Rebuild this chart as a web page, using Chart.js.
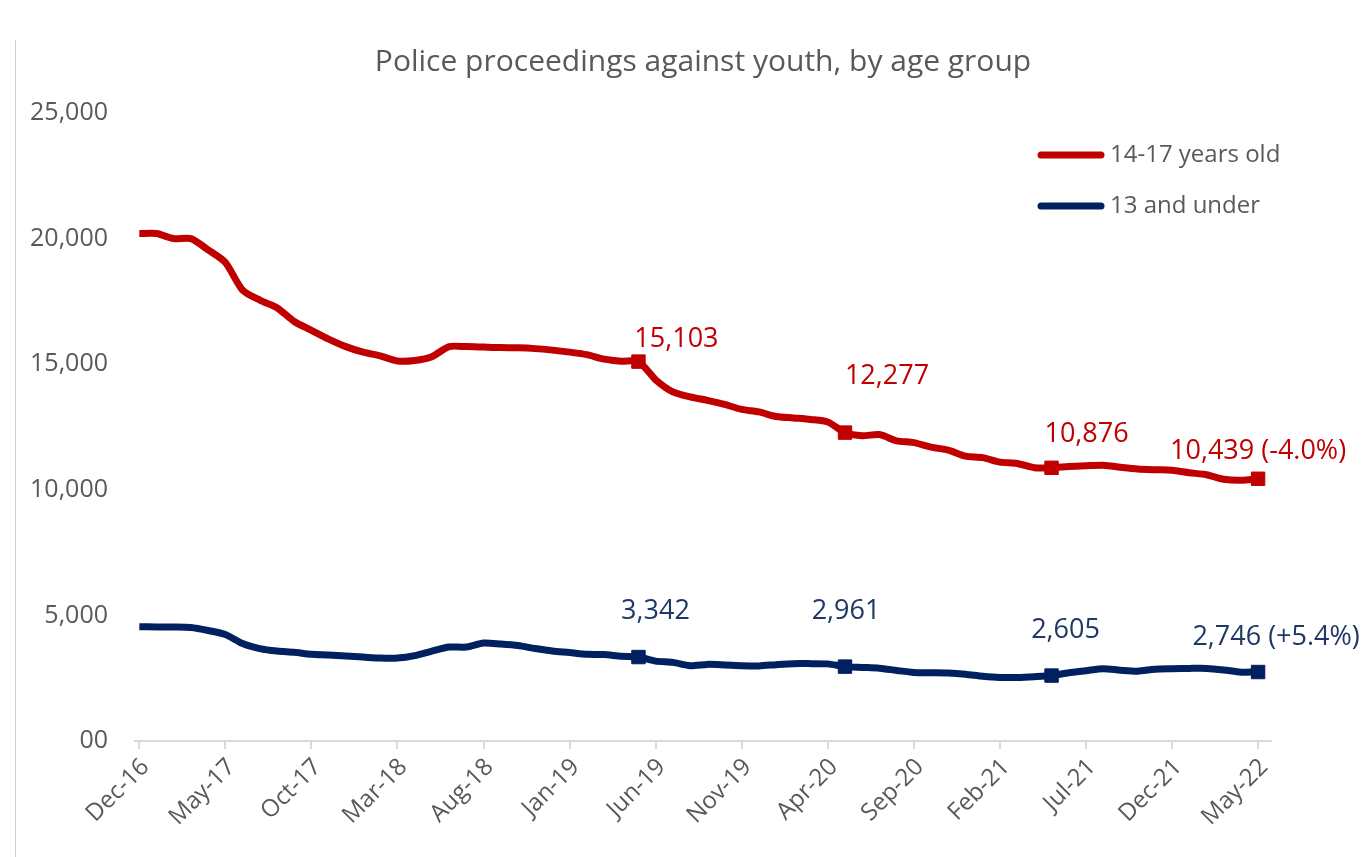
<!DOCTYPE html>
<html>
<head>
<meta charset="utf-8">
<title>Police proceedings against youth</title>
<script src="https://cdn.jsdelivr.net/npm/chart.js@4.4.1/dist/chart.umd.min.js"></script>
<style>
  html, body { margin: 0; padding: 0; background: #fff; }
  #wrap { position: relative; width: 1369px; height: 857px; }
  #frame { position: absolute; left: 15px; top: 40px; bottom: 0; border-left: 1px solid #cfcfcf; }
  canvas { position: absolute; left: 0; top: 0; }
</style>
</head>
<body>
<div id="wrap">
  <div id="frame"></div>
  <canvas id="myChart" width="1369" height="857"></canvas>
</div>
<script>
// Monthly counts, Dec-16 .. May-22 (66 months)
const tickLabels = ['Dec-16', 'May-17', 'Oct-17', 'Mar-18', 'Aug-18', 'Jan-19', 'Jun-19',
                    'Nov-19', 'Apr-20', 'Sep-20', 'Feb-21', 'Jul-21', 'Dec-21', 'May-22'];

const age14to17 = [
  20200, 20200, 20000, 20000, 19550, 19050, 17950, 17550, 17250, 16700,   // Dec-16 .. Sep-17
  16350, 16000, 15700, 15480, 15330, 15130, 15150, 15300, 15700, 15700,   // Oct-17 .. Jul-18
  15680, 15660, 15650, 15620, 15560, 15480, 15380, 15200, 15120, 15103,   // Aug-18 .. May-19
  14380, 13900, 13700, 13560, 13400, 13200, 13100, 12920, 12860, 12800,   // Jun-19 .. Mar-20
  12700, 12277, 12150, 12200, 11950, 11880, 11700, 11580, 11340, 11280,   // Apr-20 .. Jan-21
  11100, 11050, 10880, 10876, 10930, 10960, 10980, 10900, 10830, 10800,   // Feb-21 .. Nov-21
  10780, 10680, 10600, 10420, 10380, 10439                                // Dec-21 .. May-22
];

const age13under = [
  4550, 4540, 4540, 4520, 4400, 4240, 3880, 3680, 3580, 3530,
  3450, 3420, 3380, 3340, 3300, 3300, 3400, 3580, 3740, 3740,
  3900, 3860, 3800, 3680, 3580, 3520, 3450, 3440, 3370, 3342,
  3180, 3130, 3000, 3050, 3030, 3000, 2990, 3040, 3080, 3080,
  3070, 2961, 2930, 2900, 2810, 2730, 2720, 2710, 2660, 2580,
  2530, 2530, 2560, 2605, 2720, 2800, 2880, 2820, 2780, 2860,
  2880, 2890, 2890, 2830, 2740, 2746
];

const markIdx = [29, 41, 53, 65];   // May of each year

const seriesNames = ['14-17 years old', '13 and under'];
const lineColors = ['#C00000', '#002060'];
const textColors = ['#C00000', '#203864'];

// where each value label sits relative to its marker [dx, dy]
const labelOffsets = [
  [[38, -22], [42, -56], [35, -33], [0, -27]],
  [[17, -46], [1, -55], [14, -45], [18, -35]]
];

const FONT = "'Open Sans', sans-serif";
const GREY = '#595959';

Chart.defaults.font.family = FONT;

function toPoints(arr) {
  return arr.map((v, i) => ({x: i, y: v}));
}

// value labels above the square markers
const valueLabels = {
  id: 'valueLabels',
  afterDatasetsDraw(chart) {
    const ctx = chart.ctx;
    ctx.save();
    ctx.font = '27px ' + FONT;
    ctx.textAlign = 'center';
    ctx.textBaseline = 'middle';
    chart.data.datasets.forEach((ds, d) => {
      const meta = chart.getDatasetMeta(d);
      markIdx.forEach((idx, k) => {
        const pt = meta.data[idx];
        const val = ds.data[idx].y;
        let text = val.toLocaleString('en-US');
        if (k === markIdx.length - 1) {
          const prev = ds.data[markIdx[k - 1]].y;
          const pct = (val / prev - 1) * 100;
          text += ' (' + (pct > 0 ? '+' : '') + pct.toFixed(1) + '%)';
        }
        ctx.fillStyle = textColors[d];
        ctx.fillText(text, pt.x + labelOffsets[d][k][0], pt.y + labelOffsets[d][k][1]);
      });
    });
    ctx.restore();
  }
};

// legend drawn inside the plot, top right
const innerLegend = {
  id: 'innerLegend',
  afterDraw(chart) {
    const {ctx, chartArea} = chart;
    ctx.save();
    chart.data.datasets.forEach((ds, d) => {
      const y = chartArea.top + 42 + d * 51;
      const x = chartArea.right - 230;
      ctx.strokeStyle = ds.borderColor;
      ctx.lineWidth = 7;
      ctx.lineCap = 'round';
      ctx.beginPath();
      ctx.moveTo(x, y);
      ctx.lineTo(x + 60, y);
      ctx.stroke();
      ctx.fillStyle = GREY;
      ctx.font = '24px ' + FONT;
      ctx.textAlign = 'left';
      ctx.textBaseline = 'middle';
      ctx.fillText(ds.label, x + 69, y);
    });
    ctx.restore();
  }
};

const datasets = [age14to17, age13under].map((arr, d) => ({
  label: seriesNames[d],
  data: toPoints(arr),
  borderColor: lineColors[d],
  backgroundColor: lineColors[d],
  borderWidth: 7,
  borderJoinStyle: 'round',
  tension: 0.25,
  pointStyle: 'rect',
  pointRadius: c => markIdx.includes(c.dataIndex) ? 9.5 : 0,
  pointHoverRadius: c => markIdx.includes(c.dataIndex) ? 9.5 : 0,
  pointBackgroundColor: lineColors[d],
  pointBorderColor: lineColors[d],
  pointBorderWidth: 1
}));

new Chart(document.getElementById('myChart'), {
  type: 'line',
  data: { datasets },
  plugins: [valueLabels, innerLegend],
  options: {
    responsive: false,
    animation: false,
    devicePixelRatio: 1,
    layout: { padding: { left: 0, right: 98, top: 0, bottom: 0 } },
    scales: {
      x: {
        type: 'linear',
        min: -0.25,
        max: 65.75,
        afterBuildTicks: axis => {
          axis.ticks = tickLabels.map((_, i) => ({value: i * 5}));
        },
        afterFit: s => { s.height = 116; },
        ticks: {
          minRotation: 45,
          maxRotation: 45,
          labelOffset: 6,
          padding: 4,
          color: GREY,
          font: { size: 24 },
          callback: v => tickLabels[v / 5]
        },
        grid: { drawOnChartArea: false, drawTicks: true, tickLength: 8, color: '#d9d9d9', lineWidth: 2 },
        border: { color: '#d9d9d9', width: 2 }
      },
      y: {
        min: 0,
        max: 25000,
        afterFit: s => { s.width = 135; },
        ticks: {
          stepSize: 5000,
          padding: 27,
          color: GREY,
          font: { size: 25 },
          callback: v => v === 0 ? '00' : v.toLocaleString('en-US')
        },
        grid: { display: false, drawTicks: false },
        border: { display: false }
      }
    },
    plugins: {
      legend: { display: false },
      tooltip: { enabled: false },
      title: {
        display: true,
        fullSize: false,
        text: 'Police proceedings against youth, by age group',
        color: GREY,
        font: { size: 30, weight: 'normal' },
        padding: { top: 44, bottom: 33 }
      }
    }
  }
});
</script>
</body>
</html>
